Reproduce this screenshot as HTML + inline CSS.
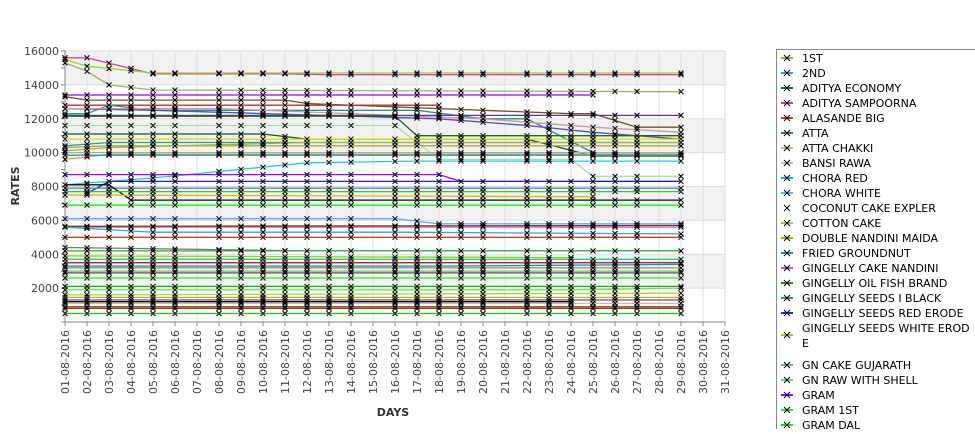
<!DOCTYPE html>
<html><head><meta charset="utf-8"><style>
body{margin:0;background:#fff;width:975px;height:429px;overflow:hidden;font-family:"Liberation Sans","DejaVu Sans",sans-serif}
</style></head><body>
<svg id="s" width="975" height="429" xmlns="http://www.w3.org/2000/svg" font-family="DejaVu Sans, Liberation Sans, sans-serif"></svg>
<script>
const S=document.getElementById('s');let h='';
const L=65,R=725,T=51,B=322;
const X=d=>L+(d-1)*22, Y=v=>B-(v/16000)*(B-T);
// bands
h+=`<rect x="${L}" y="${T-1}" width="${R-L}" height="${B-T+1}" fill="#fff"/>`;
[[14000,16000],[10000,12000],[6000,8000],[2000,4000]].forEach(b=>{h+=`<rect x="${L}" y="${Y(b[1])}" width="${R-L}" height="${Y(b[0])-Y(b[1])}" fill="#f2f2f2"/>`});
for(let v=2000;v<=16000;v+=2000)h+=`<line x1="${L}" x2="${R}" y1="${Y(v)}" y2="${Y(v)}" stroke="#ddd"/>`;
for(let d=1;d<=31;d++)h+=`<line x1="${X(d)}" x2="${X(d)}" y1="${T}" y2="${B}" stroke="#ddd"/>`;
// axes
h+=`<line x1="${L}" x2="${R}" y1="${B}" y2="${B}" stroke="#888"/><line x1="${L}" x2="${L}" y1="${T-1}" y2="${B}" stroke="#888"/>`;
for(let v=0;v<=16000;v+=1000){h+=`<line x1="${L-4}" x2="${L}" y1="${Y(v)}" y2="${Y(v)}" stroke="#888"/>`;}
for(let v=2000;v<=16000;v+=2000)h+=`<text x="${L-6}" y="${Y(v)+4}" font-size="11" fill="#444" text-anchor="end">${v}</text>`;
for(let d=1;d<=31;d++){const dd=(d<10?'0':'')+d;h+=`<line x1="${X(d)}" x2="${X(d)}" y1="${B}" y2="${B+4}" stroke="#888"/><text transform="translate(${X(d)+4},${B+8}) rotate(-90)" font-size="11" fill="#444" text-anchor="end">${dd}-08-2016</text>`;}
h+=`<text transform="translate(19,186) rotate(-90)" font-size="11" font-weight="bold" fill="#333" text-anchor="middle">RATES</text>`;
h+=`<text x="393" y="416" font-size="11" font-weight="bold" fill="#333" text-anchor="middle">DAYS</text>`;
const days=[];for(let d=1;d<=29;d++)if(![7,15,21,28].includes(d))days.push(d);
const ser=[
['#e0409f',[[1,15600],[2,15600],[5,14650],[11,14650],[13,14600],[29,14600]]],
['#88dd33',[[1,15500],[2,15100],[5,14700],[29,14700]]],
['#99b070',[[1,15300],[2,14800],[3,14000],[5,13700],[29,13600]]],
['#9900ff',[[1,13400],[25,13400]]],
['#6b5a1e',[[1,13300],[2,13100],[11,13100],[12,12900],[24,12300],[25,12300],[27,11500],[29,11500]]],
['#c0302a',[[1,12800],[3,12800],[18,12800]]],
['#2a9090',[[1,12300],[2,12300],[3,12800],[5,12500],[17,12500],[20,12000],[22,12000],[25,10000],[29,10000]]],
['#5050c0',[[1,12600],[5,12500],[18,12000],[22,11600],[25,11200],[29,10800]]],
['#cc9999',[[1,12600],[8,12600],[20,12000],[25,11500],[29,11200]]],
['#663399',[[1,12200],[29,12200]]],
['#1a6a1a',[[1,12150],[16,12150],[17,11000],[29,11000]]],
['#aaddaa',[[1,11600],[16,11600],[18,9600],[24,9600],[25,8600],[29,8600]]],
['#1a5a1a',[[1,11100],[10,11100],[12,10800],[22,10800],[25,9800],[29,9800]]],
['#dddd00',[[1,10800],[29,10800]]],
['#339999',[[1,10400],[3,10600],[29,10600]]],
['#aaaa44',[[1,10300],[3,10400],[29,10400]]],
['#99bb33',[[1,10100],[3,10300],[12,10600],[29,10600]]],
['#bbaa88',[[1,10000],[29,10000]]],
['#ff9933',[[1,9600],[3,9900],[29,9900]]],
['#00aacc',[[1,9850],[29,9850]]],
['#22ccdd',[[1,8100],[5,8500],[12,9400],[17,9500],[29,9500]]],
['#9900ff',[[1,8700],[18,8700],[19,8300],[29,8300]]],
['#2222cc',[[2,7600],[3,8300],[29,8300]]],
['#6688aa',[[1,7900],[29,7900]]],
['#111111',[[1,8100],[3,8100],[4,7200],[29,7200]]],
['#44bb44',[[1,7700],[29,7700]]],
['#bbcc00',[[1,7500],[25,7400]]],
['#00ee00',[[1,6900],[29,6900]]],
['#66aaff',[[1,6100],[10,6100],[16,6100],[18,5800],[29,5800]]],
['#ff66cc',[[1,5600],[29,5600]]],
['#5a4a1a',[[1,5650],[29,5700]]],
['#33aacc',[[1,5600],[5,5300],[16,5300],[29,5200]]],
['#d04020',[[1,5000],[29,5000]]],
['#8a7a5a',[[1,4400],[12,4200],[29,4200]]],
['#22aa55',[[1,4200],[29,4200]]],
['#aacc00',[[1,3900],[24,3800]]],
['#33cc99',[[1,3700],[29,3700]]],
['#993333',[[1,3500],[29,3500]]],
['#3388aa',[[1,3300],[18,3300],[29,3400]]],
['#999999',[[1,3200],[29,3200]]],
['#88cc66',[[1,3000],[29,3000]]],
['#555555',[[1,2900],[29,2900]]],
['#22ee22',[[1,2600],[29,2600]]],
['#22aa22',[[1,2100],[29,2100]]],
['#66ee44',[[1,1900],[24,1900],[29,2000]]],
['#aacc66',[[1,1600],[29,1700]]],
['#bbbb00',[[1,1450],[29,1450]]],
['#884488',[[1,1300],[29,1300]]],
['#111111',[[1,1200],[24,1200]]],
['#ccbbaa',[[1,1100],[29,1100]]],
['#6a5a00',[[1,900],[29,900]]],
['#cc2222',[[1,800],[29,800]]],
['#11cc11',[[1,500],[29,500]]],
];
const val=(p,d)=>{if(d<p[0][0]||d>p[p.length-1][0])return null;for(let i=0;i<p.length-1;i++){if(d>=p[i][0]&&d<=p[i+1][0]){const t=(d-p[i][0])/((p[i+1][0]-p[i][0])||1);return p[i][1]+t*(p[i+1][1]-p[i][1]);}}return p[p.length-1][1];};
let mk='';
ser.forEach(([c,p])=>{h+=`<polyline fill="none" stroke="${c}" stroke-width="1.3" points="${p.map(q=>X(q[0])+','+Y(q[1]).toFixed(1)).join(' ')}"/>`;
 days.forEach(d=>{const v=val(p,d);if(v!==null){const x=X(d),y=Y(v);mk+=`M${x-2.5},${y-2.5}L${x+2.5},${y+2.5}M${x-2.5},${y+2.5}L${x+2.5},${y-2.5}`;}});});
h+=`<path d="${mk}" stroke="#000" stroke-width="1" fill="none"/>`;
// legend
h+=`<rect x="776.5" y="49.5" width="210" height="390" fill="#fff" stroke="#888"/>`;
const lg=[['1ST','#aaaa44'],['2ND','#22aacc'],['ADITYA ECONOMY','#1a6a6a'],['ADITYA SAMPOORNA','#995599'],['ALASANDE BIG','#d04020'],['ATTA','#3a7a6a'],['ATTA CHAKKI','#ccbbaa'],['BANSI RAWA','#aaccaa'],['CHORA RED','#22aacc'],['CHORA WHITE','#66aaff'],['COCONUT CAKE EXPLER','#ffffff'],['COTTON CAKE','#99cc66'],['DOUBLE NANDINI MAIDA','#99bb00'],['FRIED GROUNDNUT','#3388aa'],['GINGELLY CAKE NANDINI','#cc55cc'],['GINGELLY OIL FISH BRAND','#338800'],['GINGELLY SEEDS I BLACK','#339988'],['GINGELLY SEEDS RED ERODE','#2222ee'],['GINGELLY SEEDS WHITE EROD','#aacc00']];
let y=58;
lg.forEach(([n,c],i)=>{
 const yy=(i==18)?y+7:y;
 h+=`<line x1="781" x2="793" y1="${yy}" y2="${yy}" stroke="${c}" stroke-width="2"/><path d="M784,${yy-3}L790,${yy+3}M784,${yy+3}L790,${yy-3}" stroke="#000"/>`;
 h+=`<text x="802" y="${y+4}" font-size="11" fill="#000">${n}</text>`;
 if(i==18){h+=`<text x="802" y="${y+19}" font-size="11" fill="#000">E</text>`;y+=37;}else y+=15;
});
[['GN CAKE GUJARATH','#77aa99'],['GN RAW WITH SHELL','#66dd99'],['GRAM','#9900ff'],['GRAM 1ST','#33dd33'],['GRAM DAL','#00ee00']].forEach(([n,c])=>{
 h+=`<line x1="781" x2="793" y1="${y}" y2="${y}" stroke="${c}" stroke-width="2"/><path d="M784,${y-3}L790,${y+3}M784,${y+3}L790,${y-3}" stroke="#000"/><text x="802" y="${y+4}" font-size="11" fill="#000">${n}</text>`;y+=15;});
S.innerHTML=h;
</script>
</body></html>
